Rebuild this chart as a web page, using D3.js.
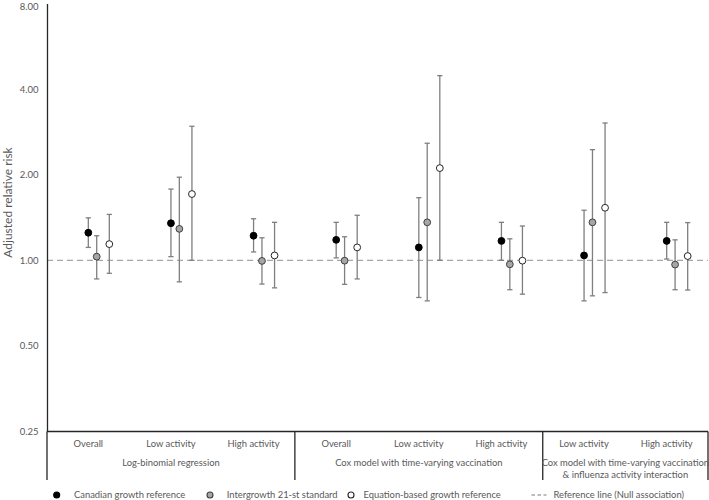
<!DOCTYPE html>
<html><head><meta charset="utf-8">
<script src="https://cdn.jsdelivr.net/npm/d3@7"></script>
<style>body{margin:0;background:#fff}svg{display:block}text{font-family:Lato,"Open Sans",sans-serif}</style>
</head><body><svg id="c" width="709" height="500"></svg>
<script>
const categories = ["Overall","Low activity","High activity","Overall","Low activity","High activity","Low activity","High activity"];
const groups = [
  {label:["Log-binomial regression"], from:0, to:3},
  {label:["Cox model with time-varying vaccination"], from:3, to:6},
  {label:["Cox model with time-varying vaccination","& influenza activity interaction"], from:6, to:8}
];
const seriesNames = ["Canadian growth reference","Intergrowth 21-st standard","Equation-based growth reference"];
const canadianRR  = [1.25,1.35,1.22,1.18,1.11,1.17,1.04,1.17];
const canadianLo  = [1.11,1.03,1.07,1.02,0.74,1.00,0.72,1.01];
const canadianHi  = [1.41,1.78,1.40,1.36,1.66,1.36,1.50,1.36];
const interRR     = [1.03,1.29,0.995,0.997,1.36,0.968,1.36,0.966];
const interLo     = [0.86,0.84,0.825,0.823,0.72,0.788,0.75,0.788];
const interHi     = [1.22,1.96,1.20,1.21,2.58,1.19,2.45,1.18];
const equationRR  = [1.14,1.71,1.04,1.11,2.11,0.997,1.53,1.035];
const equationLo  = [0.90,1.00,0.80,0.86,1.00,0.76,0.77,0.786];
const equationHi  = [1.45,2.96,1.36,1.44,4.46,1.32,3.04,1.357];
const yTicks = [0.25,0.5,1,2,4,8];
const refValue = 1.0;

(function(){
const series = [
  {name:seriesNames[0], rr:canadianRR, lo:canadianLo, hi:canadianHi, fill:"#000000", stroke:"#000000", off:0},
  {name:seriesNames[1], rr:interRR, lo:interLo, hi:interHi, fill:"#a6a6a6", stroke:"#404040", off:8.4},
  {name:seriesNames[2], rr:equationRR, lo:equationLo, hi:equationHi, fill:"#ffffff", stroke:"#262626", off:21}
];

const svg = d3.select("#c");
const pl = 47, pr = 708, pt = 3.5, pb = 431.5;
const x = d3.scaleBand().domain(d3.range(categories.length)).range([pl,pr]);
const y = d3.scaleLog().base(2).domain([0.25,8]).range([pb,pt]);
const txt = "#595959";
const fs = 9.4;

svg.append("line").attr("x1",pl).attr("x2",pr).attr("y1",y(refValue)).attr("y2",y(refValue))
  .attr("stroke","#a6a6a6").attr("stroke-width",1.3).attr("stroke-dasharray","6,4");

const yAxis = d3.axisLeft(y).tickValues(yTicks).tickFormat(d3.format(".2f")).tickSize(0).tickPadding(8.5);
const ga = svg.append("g").attr("transform",`translate(${pl},0)`).call(yAxis);
ga.select(".domain").attr("stroke","#262626").attr("stroke-width",1.3);
ga.selectAll("text").attr("fill",txt).attr("font-size",9.5).attr("font-family","Lato")
  .attr("dy",d=>d===8 ? "0.6em" : "0.32em");

svg.append("text").attr("transform",`translate(11.5,202.5) rotate(-90)`)
  .attr("text-anchor","middle").attr("fill",txt).attr("font-size",12).text("Adjusted relative risk");

svg.append("line").attr("x1",pl).attr("x2",pr).attr("y1",pb).attr("y2",pb).attr("stroke","#262626").attr("stroke-width",1.3);
const seps = [0,3,6,8].map(i => i===8 ? pr : x(i));
seps.forEach(sx => svg.append("line").attr("x1",sx).attr("x2",sx).attr("y1",pb).attr("y2",480).attr("stroke","#262626").attr("stroke-width",1.3));

svg.append("g").selectAll("text").data(categories).join("text")
  .attr("x",(d,i)=>x(i)+x.bandwidth()/2).attr("y",446.6).attr("text-anchor","middle")
  .attr("fill",txt).attr("font-size",fs).text(d=>d);

groups.forEach(g=>{
  const cx = ((g.from===0?pl:x(g.from)) + (g.to===8?pr:x(g.to)))/2;
  g.label.forEach((l,k)=>{
    svg.append("text").attr("x",cx).attr("y",465.5+k*12.3).attr("text-anchor","middle")
      .attr("fill",txt).attr("font-size",fs).text(l);
  });
});

series.forEach(s=>{
  const g = svg.append("g");
  categories.forEach((c,i)=>{
    const cx = x(i)+x.bandwidth()/2 + s.off;
    g.append("line").attr("x1",cx).attr("x2",cx).attr("y1",y(s.lo[i])).attr("y2",y(s.hi[i])).attr("stroke","#7f7f7f").attr("stroke-width",1.3);
    [s.lo[i],s.hi[i]].forEach(v=>g.append("line").attr("x1",cx-2.6).attr("x2",cx+2.6).attr("y1",y(v)).attr("y2",y(v)).attr("stroke","#7f7f7f").attr("stroke-width",1.3));
  });
  g.selectAll("circle").data(s.rr).join("circle")
    .attr("cx",(d,i)=>x(i)+x.bandwidth()/2+s.off).attr("cy",d=>y(d)).attr("r",3.4)
    .attr("fill",s.fill).attr("stroke",s.stroke).attr("stroke-width",1);
});

const ly = 495;
const leg = [
  {type:"dot", fill:"#000", stroke:"#000", mx:56.7, tx:74, text:seriesNames[0]},
  {type:"dot", fill:"#a6a6a6", stroke:"#404040", mx:210, tx:226.7, text:seriesNames[1]},
  {type:"dot", fill:"#fff", stroke:"#262626", mx:351, tx:363.5, text:seriesNames[2]},
  {type:"dash", mx:539, tx:553.5, text:"Reference line (Null association)"}
];
leg.forEach(l=>{
  if(l.type==="dot") svg.append("circle").attr("cx",l.mx).attr("cy",ly).attr("r",3).attr("fill",l.fill).attr("stroke",l.stroke).attr("stroke-width",1.1);
  else svg.append("line").attr("x1",l.mx-7.5).attr("x2",l.mx+7.5).attr("y1",ly).attr("y2",ly).attr("stroke","#a6a6a6").attr("stroke-width",1.3).attr("stroke-dasharray","3.5,2.5");
  svg.append("text").attr("x",l.tx).attr("y",ly+3.3).attr("fill",txt).attr("font-size",fs).text(l.text);
});
})();
</script></body></html>
